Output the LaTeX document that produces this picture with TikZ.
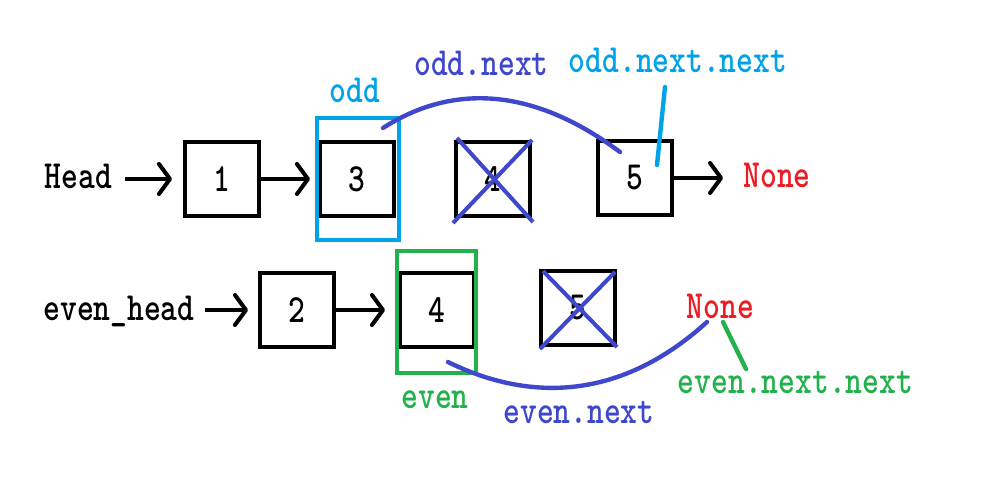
\documentclass[tikz,border=0pt]{standalone}
\usepackage{graphicx}
\usetikzlibrary{arrows.meta}
\definecolor{paintblue}{HTML}{00A2E8}
\definecolor{paintgreen}{HTML}{22B14C}
\definecolor{paintred}{HTML}{ED1C24}
\definecolor{paintindigo}{HTML}{3F48CC}
% monospaced label font, stretched a little vertically
\newcommand{\lblfont}{\fontsize{18.2}{20}\selectfont\ttfamily\bfseries}
\newcommand{\tall}[1]{\scalebox{1}[1.25]{#1}}
\begin{document}
\begin{tikzpicture}[x=0.02cm,y=-0.02cm,
  ink/.style={line width=2.3pt},
  cell/.style={draw, ink, minimum size=1.48cm, inner sep=0pt, font=\lblfont},
  lbl/.style={inner sep=0pt, anchor=base, font=\lblfont},
  ptr/.style={ink, -{Straight Barb[length=0.22cm,width=0.6cm,round]}},
  frame/.style={draw, line width=2.3pt, minimum width=#1, minimum height=2.44cm, inner sep=0pt},
  strike/.style={paintindigo, line width=2.3pt},
  note/.style={line width=2.5pt, line cap=round}
]
\useasboundingbox (0,0) rectangle (992,490);

% --- odd list ---
\node[lbl] (head) at (78.5,188) {\tall{Head}};
\node[cell] (n1) at (222,179) {\tall{1}};
\node[cell] (n3) at (357,179) {\tall{3}};
\node[cell] (n4) at (493,179) {\tall{4}};
\node[cell] (n5) at (635,178) {\tall{5}};
\node[lbl, text=paintred] (none1) at (777,187) {\tall{None}};

\draw[ptr, shorten <=0.26cm, shorten >=0.22cm] (head.east |- n1.west) -- (n1.west);
\draw[ptr, shorten >=0.16cm] (n1.east) -- (n3.west);
\draw[ptr, shorten >=0.4cm] (n5.east) -- (n5.east -| none1.west);

% removed node 4
\draw[strike] ([shift={(-1,5)}]n4.south west) -- ([shift={(0,0)}]n4.north east);
\draw[strike] ([shift={(3,-2)}]n4.north west) -- ([shift={(1,4)}]n4.south east);

% odd pointer frame and labels
\node[frame=1.64cm, draw=paintblue] (oddframe) at (358,179) {};
\node[lbl, text=paintblue] (odd) at (355,102) {\tall{odd}};
\node[lbl, text=paintindigo] (oddnext) at (481.5,75) {\tall{odd.next}};
\node[lbl, text=paintblue] (oddnn) at (678,72) {\tall{odd.next.next}};

\coordinate (on-a) at (383,128);
\coordinate (on-b) at (620,152);
\draw[note, paintindigo] (on-a) .. controls (450,85) and (530,85) .. (on-b);
\coordinate (onn-a) at (665,87);
\coordinate (onn-b) at (657,165);
\draw[note, paintblue] (onn-a) -- (onn-b);

% --- even list ---
\node[lbl] (ehead) at (119,320) {\tall{even\_head}};
\node[cell] (e2) at (297,310) {\tall{2}};
\node[cell] (e4) at (437,310) {\tall{4}};
\node[cell] (e5) at (578,308) {\tall{5}};
\node[lbl, text=paintred] (none2) at (720.5,318) {\tall{None}};

\draw[ptr, shorten <=0.2cm, shorten >=0.2cm] (ehead.east |- e2.west) -- (e2.west);
\draw[ptr, shorten >=0.26cm] (e2.east) -- (e4.west);

% removed node 5
\draw[strike] ([shift={(4,2)}]e5.north west) -- ([shift={(0,0)}]e5.south east);
\draw[strike] ([shift={(1,2)}]e5.south west) -- ([shift={(-2,3)}]e5.north east);

% even pointer frame and labels
\node[frame=1.58cm, draw=paintgreen] (evenframe) at (436.5,312) {};
\node[lbl, text=paintgreen] (even) at (435,408) {\tall{even}};
\node[lbl, text=paintindigo] (evennext) at (579,423) {\tall{even.next}};
\node[lbl, text=paintgreen] (evennn) at (795.5,393) {\tall{even.next.next}};

\coordinate (en-a) at (448,362);
\coordinate (en-b) at (707,322);
\draw[note, paintindigo] (en-a) .. controls (515,395) and (610,410) .. (en-b);
\coordinate (enn-a) at (723,322);
\coordinate (enn-b) at (746,369);
\draw[note, paintgreen] (enn-a) -- (enn-b);
\end{tikzpicture}
\end{document}
